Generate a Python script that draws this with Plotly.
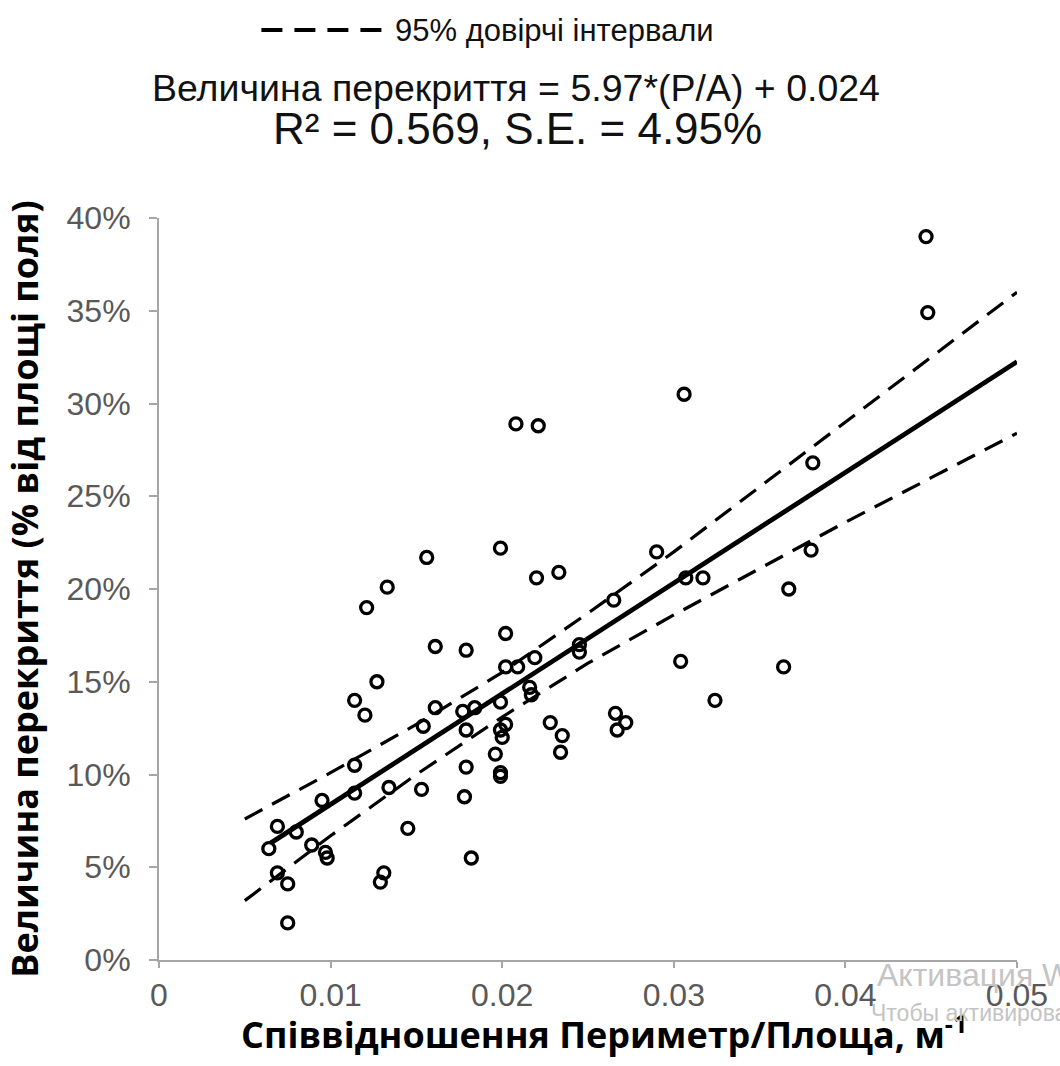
import plotly.graph_objects as go

# ---------------- data ----------------
pa_ratio = [0.0447, 0.0448, 0.0306, 0.0208, 0.0221, 0.0381, 0.0156, 0.0199, 0.0290, 0.0380,
            0.0233, 0.0220, 0.0133, 0.0121, 0.0307, 0.0317, 0.0367, 0.0265, 0.0202, 0.0161,
            0.0179, 0.0245, 0.0245, 0.0202, 0.0209, 0.0219, 0.0304, 0.0364, 0.0127, 0.0216,
            0.0217, 0.0114, 0.0324, 0.0161, 0.0184, 0.0199, 0.0177, 0.0120, 0.0266, 0.0154,
            0.0179, 0.0202, 0.0199, 0.0228, 0.0272, 0.0267, 0.0200, 0.0235, 0.0196, 0.0234,
            0.0114, 0.0179, 0.0199, 0.0199, 0.0134, 0.0153, 0.0114, 0.0095, 0.0178, 0.0069,
            0.0080, 0.0145, 0.0089, 0.0064, 0.0097, 0.0098, 0.0182, 0.0069, 0.0131, 0.0129,
            0.0075, 0.0075]
overlap = [0.390, 0.349, 0.305, 0.289, 0.288, 0.268, 0.217, 0.222, 0.220, 0.221,
           0.209, 0.206, 0.201, 0.190, 0.206, 0.206, 0.200, 0.194, 0.176, 0.169,
           0.167, 0.170, 0.166, 0.158, 0.158, 0.163, 0.161, 0.158, 0.150, 0.147,
           0.143, 0.140, 0.140, 0.136, 0.136, 0.139, 0.134, 0.132, 0.133, 0.126,
           0.124, 0.127, 0.124, 0.128, 0.128, 0.124, 0.120, 0.121, 0.111, 0.112,
           0.105, 0.104, 0.101, 0.099, 0.093, 0.092, 0.090, 0.086, 0.088, 0.072,
           0.069, 0.071, 0.062, 0.060, 0.058, 0.055, 0.055, 0.047, 0.047, 0.042,
           0.041, 0.020]

fit_x = [0.0065, 0.05]
fit_y = [0.063, 0.3225]

ci_x = [0.005, 0.010, 0.015, 0.020, 0.025, 0.030, 0.035, 0.040, 0.045, 0.050]
ci_upper = [0.076, 0.101, 0.127, 0.155, 0.187, 0.220, 0.255, 0.290, 0.325, 0.360]
ci_lower = [0.032, 0.067, 0.100, 0.131, 0.160, 0.186, 0.211, 0.236, 0.260, 0.284]

x_tick_vals = [0, 0.01, 0.02, 0.03, 0.04, 0.05]
x_tick_text = ["0", "0.01", "0.02", "0.03", "0.04", "0.05"]
y_tick_vals = [0, 0.05, 0.10, 0.15, 0.20, 0.25, 0.30, 0.35, 0.40]

legend_label = "95% довірчі інтервали"
equation_text = "Величина перекриття = 5.97*(P/A) + 0.024"
stats_text = "R² = 0.569, S.E. = 4.95%"
x_title = "Співвідношення Периметр/Площа, м<sup>-1</sup>"
y_title = "Величина перекриття (% від площі поля)"
watermark_1 = "Активация Windows"
watermark_2 = "Чтобы активировать Windows, перейдите в раздел \"Параметры\"."

# ---------------- layout geometry ----------------
W, H = 1060, 1066
L, R, T, B = 159, 38, 218, 106
pw, ph = W - L - R, H - T - B


def px(x):
    return (x - L) / pw


def py(y):
    return (H - B - y) / ph


SANS = "Liberation Sans, Arial, sans-serif"
BOLD = "Open Sans, Noto Sans, DejaVu Sans, sans-serif"
AXIS_GRAY = "#a6a6a6"

fig = go.Figure()

for ys in (ci_upper, ci_lower):
    fig.add_trace(go.Scatter(
        x=ci_x, y=ys, mode="lines",
        line=dict(color="black", width=3.2, dash="20px,11px"),
        showlegend=False, hoverinfo="skip"))

fig.add_trace(go.Scatter(
    x=fit_x, y=fit_y, mode="lines",
    line=dict(color="black", width=4.8),
    showlegend=False, hoverinfo="skip"))

fig.add_trace(go.Scatter(
    x=pa_ratio, y=overlap, mode="markers",
    marker=dict(symbol="circle-open", size=12, color="black", line=dict(width=3.3, color="black")),
    showlegend=False))

# legend key (top)
fig.add_shape(type="line", xref="paper", yref="paper",
              x0=px(262), x1=px(385), y0=py(30), y1=py(30),
              line=dict(color="black", width=4, dash="21px,12px"))

annotations = [
    dict(text=legend_label, x=px(394), y=py(30), xanchor="left", yanchor="middle",
         font=dict(family=SANS, size=31, color="#111111")),
    dict(text=equation_text, x=px(518), y=py(88), xanchor="center", yanchor="middle",
         font=dict(family=SANS, size=37.5, color="#111111")),
    dict(text=stats_text, x=px(520), y=py(128), xanchor="center", yanchor="middle",
         font=dict(family=SANS, size=44, color="#111111")),
    dict(text=x_title, x=px(607), y=py(1032), xanchor="center", yanchor="middle",
         font=dict(family=BOLD, size=36, color="black", weight="bold")),
    dict(text=watermark_1, x=px(879), y=py(975), xanchor="left", yanchor="middle",
         font=dict(family=SANS, size=32, color="#c4c4c4")),
    dict(text=watermark_2, x=px(873), y=py(1013), xanchor="left", yanchor="middle",
         font=dict(family=SANS, size=23, color="#c4c4c4")),
]
for a in annotations:
    a.update(xref="paper", yref="paper", showarrow=False)

fig.update_layout(
    width=W, height=H,
    margin=dict(l=L, r=R, t=T, b=B, pad=0),
    paper_bgcolor="white", plot_bgcolor="white",
    annotations=annotations,
    xaxis=dict(
        range=[0, 0.05], tickvals=x_tick_vals, ticktext=x_tick_text,
        showgrid=False, zeroline=False, showline=True, linecolor=AXIS_GRAY, linewidth=2,
        ticks="outside", ticklen=6, tickwidth=1.5, tickcolor=AXIS_GRAY,
        tickfont=dict(family=SANS, size=32, color="#595959"),
    ),
    yaxis=dict(
        range=[0, 0.40], tickvals=y_tick_vals, tickformat=".0%",
        showgrid=False, zeroline=False, showline=True, linecolor=AXIS_GRAY, linewidth=2,
        ticks="outside", ticklen=8, tickwidth=1.5, tickcolor=AXIS_GRAY,
        ticklabelstandoff=12,
        tickfont=dict(family=SANS, size=32, color="#595959"),
        title=dict(text=y_title, font=dict(family=BOLD, size=36, color="black", weight="bold"),
                   standoff=20),
    ),
)

fig.write_html("out.html", config={"displayModeBar": False},
               post_script="document.body.style.margin='0';")
